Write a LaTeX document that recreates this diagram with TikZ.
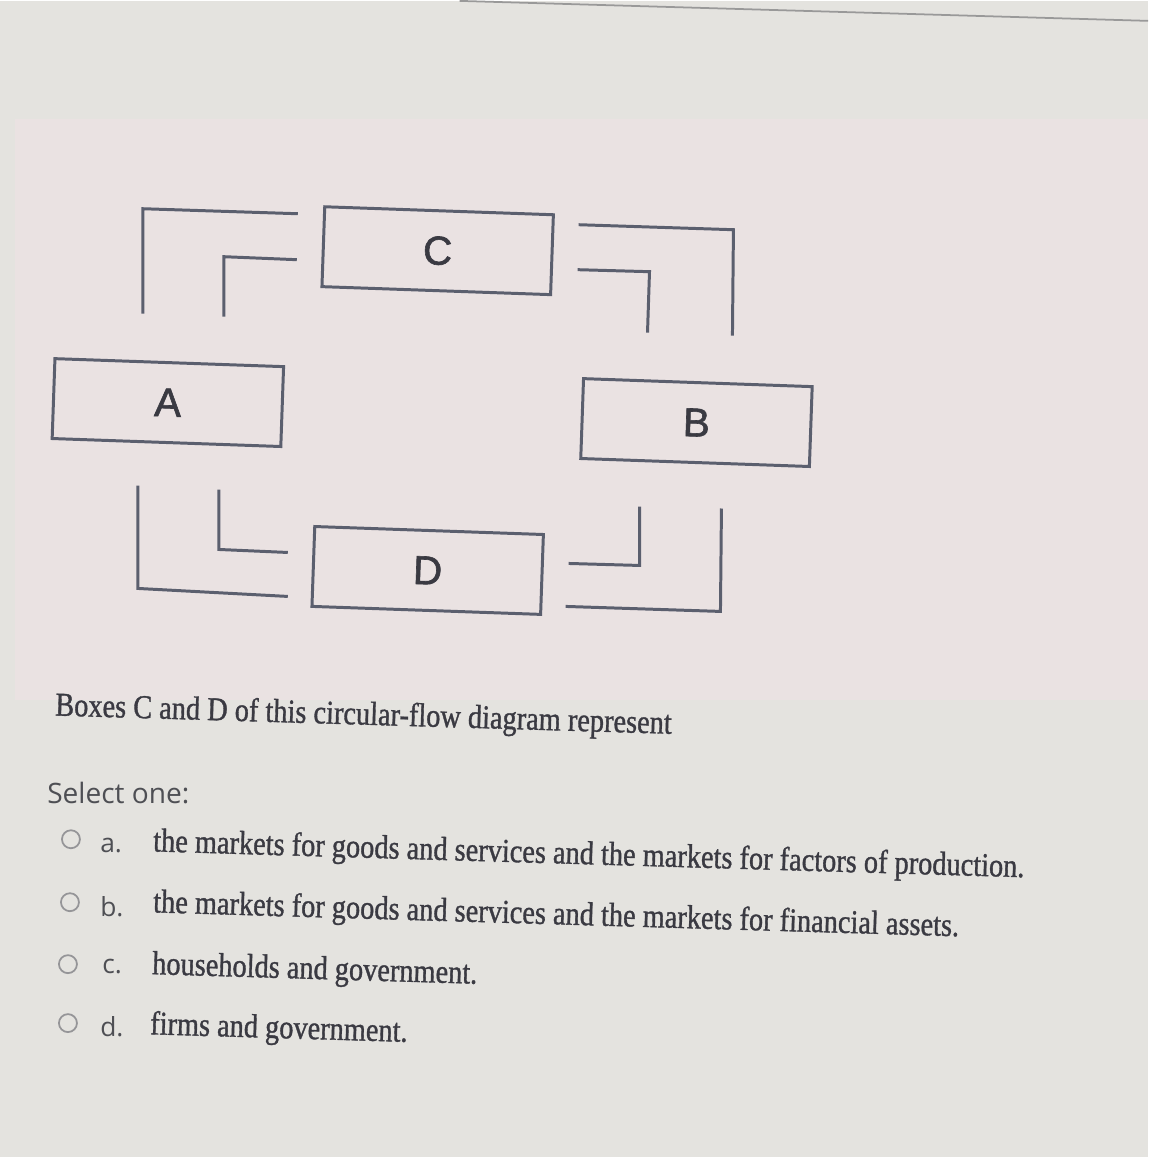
\documentclass[tikz,border=0pt]{standalone}
\usepackage{fontspec}
\usepackage{tikz}
\newfontfamily\qfont[FakeStretch=0.85,FakeBold=1]{Liberation Serif}
\newfontfamily\uifont{Open Sans}
\newfontfamily\boxfont[FakeBold=1.5]{Liberation Sans}
\definecolor{bg}{HTML}{E4E3DF}
\definecolor{pinkbg}{HTML}{EAE2E2}
\definecolor{boxline}{HTML}{5B5F6E}
\definecolor{qtext}{HTML}{3A3A42}
\definecolor{uitext}{HTML}{4E4F54}
\tikzset{
  flowbox/.style={draw=boxline, line width=1.7pt, minimum width=4.58cm, minimum height=1.6cm,
    inner sep=0pt, rotate=-2, font=\boxfont\fontsize{23}{23}\selectfont, text=qtext},
  flowline/.style={draw=boxline, line width=1.7pt},
  qline/.style={anchor=west, inner sep=0pt, text=qtext, rotate=-1.7,
    font=\qfont\fontsize{19}{19}\selectfont},
  optlabel/.style={anchor=west, inner sep=0pt, text=uitext, font=\uifont\fontsize{15}{15}\selectfont},
  radio/.style={draw=uitext!60, line width=1pt, circle, minimum size=0.36cm, inner sep=0pt},
}

\begin{document}
\begin{tikzpicture}[x=0.02cm,y=-0.02cm]
    % 背景
    \fill[bg] (0,0) rectangle (1149,1157);
    \fill[pinkbg] (15,118) rectangle (1149,700);
    \draw[gray!80, line width=1pt] (460,0) -- (1149,20);
    \useasboundingbox (0,0) rectangle (1149,1157);

% 四个方框
    \node[flowbox] (C) at (438,250) {C};
    \node[flowbox] (A) at (168,402) {A};
    \node[flowbox] (B) at (697,422) {B};
    \node[flowbox] (D) at (428,570) {D};

% 流向的折线
    \draw[flowline] (143,313) -- (143,208) -- (298,213);
    \draw[flowline] (224,316) -- (224,256) -- (297,259);
    \draw[flowline] (579,224) -- (734,229) -- (733,335);
    \draw[flowline] (578,269) -- (650,271) -- (648,332);
    \draw[flowline] (138,485) -- (138,588) -- (288,596);
    \draw[flowline] (219,489) -- (219,549) -- (288,552);
    \draw[flowline] (640,506) -- (640,565) -- (569,563);
    \draw[flowline] (722,508) -- (721,611) -- (566,606);

% 题目和选项
    \node[qline] (q) at (55,707) {Boxes C and D of this circular-flow diagram represent};
    \node[anchor=west, inner sep=0pt, text=uitext, font=\uifont\fontsize{16}{16}\selectfont] (sel) at (47,793) {Select one:};

    \node[radio] (ra) at (71,839) {};
    \node[radio] (rb) at (70,902) {};
    \node[radio] (rc) at (68,964) {};
    \node[radio] (rd) at (68,1023) {};
    \node[optlabel] (la) at (100,845) {a.};
    \node[optlabel] (lb) at (100,906) {b.};
    \node[optlabel] (lc) at (102,966) {c.};
    \node[optlabel] (ld) at (100,1027) {d.};

    \node[qline] (oa) at (153,843) {the markets for goods and services and the markets for factors of production.};
    \node[qline] (ob) at (153,904) {the markets for goods and services and the markets for financial assets.};
    \node[qline] (oc) at (152,966) {households and government.};
    \node[qline] (od) at (150,1026) {firms and government.};

\end{tikzpicture}
\end{document}
